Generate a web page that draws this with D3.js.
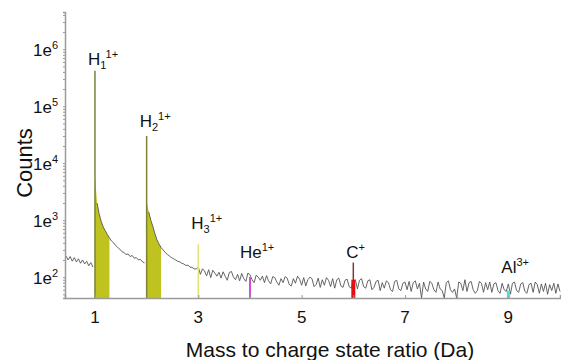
<!DOCTYPE html>
<html>
<head>
<meta charset="utf-8">
<script src="https://cdn.jsdelivr.net/npm/d3@7"></script>
<style>
  body { margin: 0; background: #fff; }
  text { font-family: "Liberation Sans", Arial, sans-serif; fill: #111; }
</style>
</head>
<body>
<svg id="chart" width="561" height="360"></svg>
<script>
// spectrum: counts every 0.04 Da starting at 0.44 Da
var massStart = 0.44;
var massStep = 0.04;
var counts = [
  235, 200, 230, 190, 220, 185, 210, 175, 200, 170, 190, 158, 180, 150,
  // H1 peak + tail (1.00 - 1.96)
  6000, 2000, 1300, 950, 760, 650, 560, 490, 430, 400, 360, 330, 310, 280, 270, 250, 255, 230, 240, 215, 220, 200, 205, 185, 178,
  // H2 peak + tail (2.00 - 2.96)
  2200, 1400, 1000, 780, 580, 450, 380, 330, 300, 270, 250, 235, 220, 210, 200, 190, 185, 175, 170, 160, 162, 150, 148, 140, 138,
  // 3.00 - 10.00
  150, 112, 140, 128, 105, 135, 98, 132, 118, 104,
  122, 96, 124, 104, 88, 120, 126, 100, 90, 112,
  86, 116, 94, 84, 118, 110, 90, 80, 108, 100,
  88, 104, 80, 106, 86, 76, 102, 98, 82, 72,
  94, 80, 102, 96, 74, 70, 94, 78, 104, 92,
  72, 98, 70, 90, 100, 94, 68, 74, 96, 66,
  90, 72, 98, 88, 68, 94, 64, 90, 96, 70,
  66, 88, 92, 68, 64, 84, 90, 62, 88, 94,
  68, 64, 86, 90, 60, 66, 84, 88, 58, 80,
  64, 86, 80, 60, 56, 84, 88, 62, 58, 78,
  82, 60, 84, 56, 80, 86, 62, 78, 42, 82,
  62, 56, 84, 78, 60, 54, 82, 62, 58, 40,
  80, 86, 60, 54, 62, 42, 82, 78, 58, 90,
  56, 80, 84, 60, 52, 58, 84, 78, 54, 80,
  60, 82, 54, 76, 80, 58, 52, 78, 60, 56,
  76, 50, 78, 82, 58, 54, 76, 80, 56, 52,
  74, 78, 54, 82, 74, 52, 76, 56, 78, 50,
  74, 58, 78, 52, 76, 56
];

// shaded ranges under H1 and H2 tails
var fillRanges = [[1.0, 1.28], [2.0, 2.28]];

// ion peaks
var ionMass = [1, 2, 3, 4, 6, 9];
var ionTop = [420000, 30000, 380, 100, 180, 58];
var ionName = ["H", "H", "H", "He", "C", "Al"];
var ionSub = ["1", "2", "3", "", "", ""];
var ionSup = ["1+", "1+", "1+", "1+", "+", "3+"];
var ionLabelCount = [520000, 44000, 690, 215, 215, 117];
var carbonBarTop = 90;

var xTicks = [1, 3, 5, 7, 9];
var yTicks = [2, 3, 4, 5, 6];

var svg = d3.select("#chart");
var margin = { top: 12, right: 1, bottom: 62, left: 65 };
var width = 561 - margin.left - margin.right;
var height = 360 - margin.top - margin.bottom;

var x = d3.scaleLinear().domain([0.42, 10]).range([margin.left, margin.left + width]);
var y = d3.scaleLog().domain([43, 4.5e6]).range([margin.top + height, margin.top]).clamp(true);
var bottom = margin.top + height;

var spectrum = counts.map(function(c, i) {
    return { mass: massStart + i * massStep, count: c };
});

// shaded tails
var area = d3.area()
    .x(d => x(d.mass))
    .y0(bottom)
    .y1(d => y(d.count));
fillRanges.forEach(function(r) {
    var seg = spectrum.filter(d => d.mass >= r[0] - 1e-6 && d.mass <= r[1] + 1e-6);
    svg.append("path")
        .datum(seg)
        .attr("d", area)
        .attr("fill", "#bfc31f");
});

// noise line (drawn only outside the peak onsets so the rise is vertical)
var line = d3.line()
    .x(d => x(d.mass))
    .y(d => y(d.count))
    .defined((d, i) => !(i > 0 && counts[i] > counts[i - 1] * 5));
svg.append("path")
    .datum(spectrum)
    .attr("d", line)
    .attr("fill", "none")
    .attr("stroke", "#555")
    .attr("stroke-width", 0.9);

// ion lines
var lineColor = ["#7f8236", "#7f8236", "#e2e27a", "#d24ed2", "#7a3a3a", "#4fe0e0"];
var lineWidth = [1.5, 1.5, 1.5, 2, 1.5, 3];
svg.append("g").selectAll("line")
    .data(ionMass)
    .enter()
    .append("line")
    .attr("x1", d => x(d))
    .attr("x2", d => x(d))
    .attr("y1", bottom)
    .attr("y2", (d, i) => y(ionTop[i]))
    .attr("stroke", (d, i) => lineColor[i])
    .attr("stroke-width", (d, i) => lineWidth[i]);

// carbon red bar
svg.append("line")
    .attr("x1", x(6)).attr("x2", x(6))
    .attr("y1", bottom).attr("y2", y(carbonBarTop))
    .attr("stroke", "#e01010")
    .attr("stroke-width", 4);

// axes
var axisColor = "#9a9a9a";
var xAxis = svg.append("g")
    .attr("transform", `translate(0, ${bottom})`)
    .call(d3.axisBottom(x).tickValues(d3.range(1, 10)).tickSize(-3).tickFormat(""));
var yAxis = svg.append("g")
    .attr("transform", `translate(${margin.left}, 0)`)
    .call(d3.axisLeft(y).tickValues(d3.range(2, 7).flatMap(k => d3.range(1, 10).map(m => m * Math.pow(10, k)))
        .concat([50, 60, 70, 80, 90])).tickSize(2).tickFormat(""));
[xAxis, yAxis].forEach(function(a) {
    a.select(".domain").attr("stroke", axisColor).attr("stroke-width", 1.5);
    a.selectAll(".tick line").attr("stroke", axisColor);
});

// x tick labels
svg.append("g").selectAll("text")
    .data(xTicks)
    .enter()
    .append("text")
    .attr("x", d => x(d))
    .attr("y", bottom + 25)
    .attr("text-anchor", "middle")
    .style("font-size", "17px")
    .text(d => d);

// y tick labels 1e^k
var yLab = svg.append("g").selectAll("text")
    .data(yTicks)
    .enter()
    .append("text")
    .attr("x", margin.left - 7)
    .attr("y", d => y(Math.pow(10, d)) + 7)
    .attr("text-anchor", "end")
    .style("font-size", "17px");
yLab.append("tspan").text("1e");
yLab.append("tspan").attr("dy", -7).style("font-size", "11px").text(d => d);

// ion labels
var ionLab = svg.append("g").selectAll("text")
    .data(ionMass)
    .enter()
    .append("text")
    .attr("x", (d, i) => x(d) - (i == 3 ? 10 : 7))
    .attr("y", (d, i) => y(ionLabelCount[i]))
    .style("font-size", "17px");
ionLab.append("tspan").text((d, i) => ionName[i]);
ionLab.append("tspan").attr("dy", 4).style("font-size", "11px").text((d, i) => ionSub[i]);
ionLab.append("tspan").attr("dy", (d, i) => ionSub[i] ? -11 : -7).style("font-size", "11px").text((d, i) => ionSup[i]);

// axis titles
svg.append("text")
    .attr("x", 330)
    .attr("y", 357)
    .attr("text-anchor", "middle")
    .style("font-size", "21px")
    .text("Mass to charge state ratio (Da)");

svg.append("text")
    .attr("transform", "translate(32, 163) rotate(-90)")
    .attr("text-anchor", "middle")
    .style("font-size", "22px")
    .text("Counts");
</script>
</body>
</html>
